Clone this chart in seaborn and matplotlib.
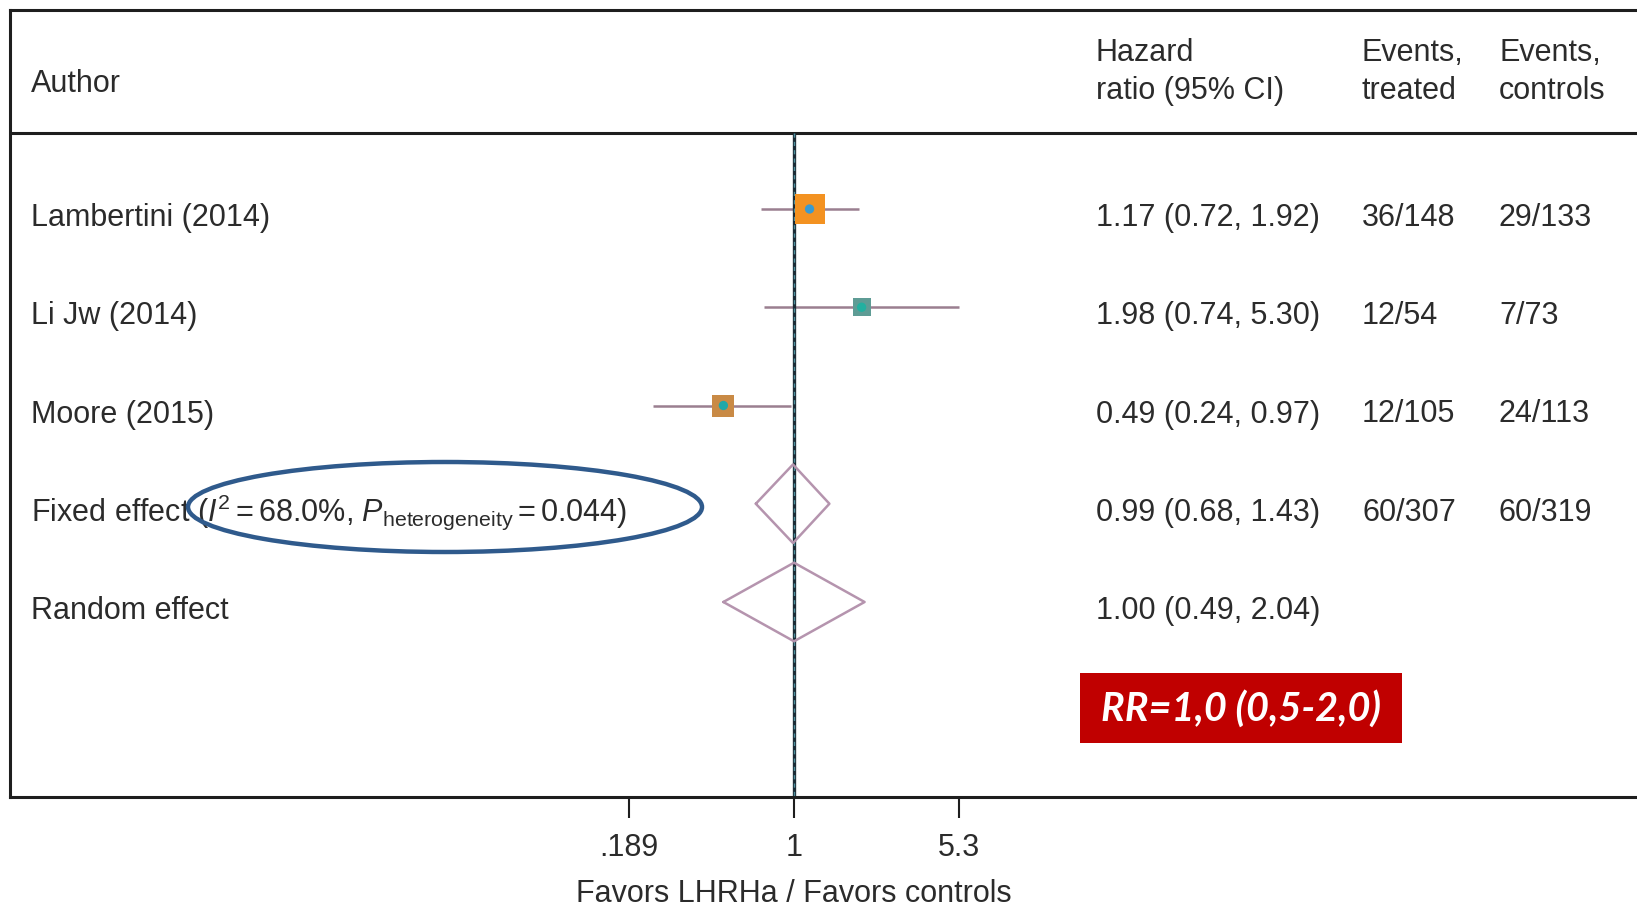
import numpy as np
import pandas as pd
import matplotlib.pyplot as plt
import matplotlib.transforms as mtransforms
from matplotlib.patches import Ellipse, Rectangle
import seaborn as sns

# Données (forest plot)
studies = ['Lambertini (2014)', 'Li Jw (2014)', 'Moore (2015)']
hr = [1.17, 1.98, 0.49]
ci_low = [0.72, 0.74, 0.24]
ci_high = [1.92, 5.30, 0.97]
events_treated = ['36/148', '12/54', '12/105']
events_controls = ['29/133', '7/73', '24/113']

pooled_labels = [r'Fixed effect ($I^2 = 68.0\%$, $P_{\mathrm{heterogeneity}} = 0.044$)', 'Random effect']
pooled_hr = [0.99, 1.00]
pooled_low = [0.68, 0.49]
pooled_high = [1.43, 2.04]
pooled_treated = ['60/307', '']
pooled_controls = ['60/319', '']

xticks = [0.189, 1, 5.3]
xtick_labels = ['.189', '1', '5.3']

# Style
box_colors = {'Lambertini (2014)': '#F39221', 'Li Jw (2014)': '#5E9C95', 'Moore (2015)': '#C98A45'}
dot_colors = {'Lambertini (2014)': '#3A9AD0', 'Li Jw (2014)': '#22B0A0', 'Moore (2015)': '#1FA8A8'}
box_px = {'Lambertini (2014)': 30, 'Li Jw (2014)': 18, 'Moore (2015)': 22}

sns.set_theme(style="white")
plt.rcParams['font.family'] = ['Liberation Sans', 'DejaVu Sans']
plt.rcParams['mathtext.fontset'] = 'custom'
plt.rcParams['mathtext.rm'] = 'Liberation Sans'
plt.rcParams['mathtext.it'] = 'Liberation Sans:italic'
plt.rcParams['mathtext.bf'] = 'Liberation Sans:bold'

W, H = 1637, 906
text_color = '#2b2b2b'
line_color = '#1e1e1e'
fs = 22

fig = plt.figure(figsize=(W / 100, H / 100), dpi=100)
ax = fig.add_axes([10 / W, 1 - 797 / H, 1 - 10 / W, (797 - 10) / H])

# échelle log : x=1 à 794 px, 99 px par unité de ln
px_per_ln = 99
ax.set_xscale('log')
xlim = (np.exp((10 - 794) / px_per_ln), np.exp((W - 794) / px_per_ln))

# lignes : rang i à 209 + 98.25*i px
row0, row_h = 209, 98.25
def py(p):
    return (p - row0) / row_h

n = len(studies)
df = pd.DataFrame({'study': studies, 'hr': hr, 'lo': ci_low, 'hi': ci_high, 'row': np.arange(n)})

# intervalles de confiance
ax.hlines(df['row'], df['lo'], df['hi'], color='#9A7F90', lw=1.8, zorder=2)

# carrés pondérés
sns.scatterplot(data=df, x='hr', y='row', hue='study', palette=box_colors,
                size='study', sizes={k: (v * 0.72) ** 2 for k, v in box_px.items()},
                marker='s', linewidth=0, legend=False, ax=ax, zorder=3)
sns.scatterplot(data=df, x='hr', y='row', hue='study', palette=dot_colors,
                s=45, marker='o', linewidth=0, legend=False, ax=ax, zorder=4)

# losanges des effets combinés
for j in range(len(pooled_hr)):
    r = n + j
    h = 0.4
    xs = [pooled_low[j], pooled_hr[j], pooled_high[j], pooled_hr[j], pooled_low[j]]
    ys = [r, r - h, r, r + h, r]
    ax.plot(xs, ys, color='#B594AE', lw=1.8, zorder=3)

# ligne de référence à 1
ax.vlines(1, py(133), py(797), color='#1c2b35', lw=2.4, zorder=2)
ax.vlines(1, py(133), py(797), color='#4f8f9c', lw=1.0, linestyles=(0, (3, 3)), zorder=2)

# ligne sous l'en-tête
ax.axhline(py(133), color=line_color, lw=2.2, zorder=1)

ax.set_xlim(*xlim)
ax.set_ylim(py(797), py(10))
ax.set_yticks([])
ax.set_ylabel('')
ax.set_xticks(xticks)
ax.set_xticklabels(xtick_labels)
ax.xaxis.set_minor_locator(plt.NullLocator())
ax.tick_params(axis='x', direction='out', length=15, width=1.5, color=line_color,
               pad=11, labelsize=fs, labelcolor=text_color, bottom=True)
ax.set_xlabel('Favors LHRHa / Favors controls', fontsize=fs, color=text_color)
ax.xaxis.set_label_coords((794 - 10) / (W - 10), -0.104)
for side in ['left', 'top', 'bottom']:
    ax.spines[side].set_color(line_color)
    ax.spines[side].set_linewidth(2.2)
ax.spines['right'].set_visible(False)

# colonnes de texte
tr = mtransforms.blended_transform_factory(fig.transFigure, ax.transData)
col_author, col_hr, col_t, col_c = 31 / W, 1096 / W, 1362 / W, 1499 / W
dy = 9 / row_h

ax.text(col_author, py(84), 'Author', transform=tr, fontsize=fs, color=text_color, va='center')
for x, l1, l2 in [(col_hr, 'Hazard', 'ratio (95% CI)'), (col_t, 'Events,', 'treated'), (col_c, 'Events,', 'controls')]:
    ax.text(x, py(53), l1, transform=tr, fontsize=fs, color=text_color, va='center')
    ax.text(x, py(91), l2, transform=tr, fontsize=fs, color=text_color, va='center')

labels = studies + pooled_labels
all_hr = hr + pooled_hr
all_lo = ci_low + pooled_low
all_hi = ci_high + pooled_high
all_t = events_treated + pooled_treated
all_c = events_controls + pooled_controls
for i in range(len(labels)):
    y = i + dy
    ax.text(col_author, y, labels[i], transform=tr, fontsize=fs, color=text_color, va='center')
    ax.text(col_hr, y, f'{all_hr[i]:.2f} ({all_lo[i]:.2f}, {all_hi[i]:.2f})', transform=tr,
            fontsize=fs, color=text_color, va='center')
    ax.text(col_t, y, all_t[i], transform=tr, fontsize=fs, color=text_color, va='center')
    ax.text(col_c, y, all_c[i], transform=tr, fontsize=fs, color=text_color, va='center')

# ellipse d'annotation
fig.patches.append(Ellipse((445 / W, 1 - 507 / H), 514 / W, 90 / H, transform=fig.transFigure,
                           fill=False, edgecolor='#2F5A8C', lw=3.2, zorder=5))

# encadré RR
fig.patches.append(Rectangle((1080 / W, 1 - 743 / H), 322 / W, 70 / H, transform=fig.transFigure,
                             facecolor='#C00000', edgecolor='none', zorder=5))
fig.text(1241 / W, 1 - 709 / H, 'RR=1,0 (0,5-2,0)', color='white', fontsize=28.5,
         fontweight='bold', fontstyle='italic', family=['Lato', 'DejaVu Sans'],
         ha='center', va='center', zorder=6)

plt.savefig('out.png', dpi=100)
